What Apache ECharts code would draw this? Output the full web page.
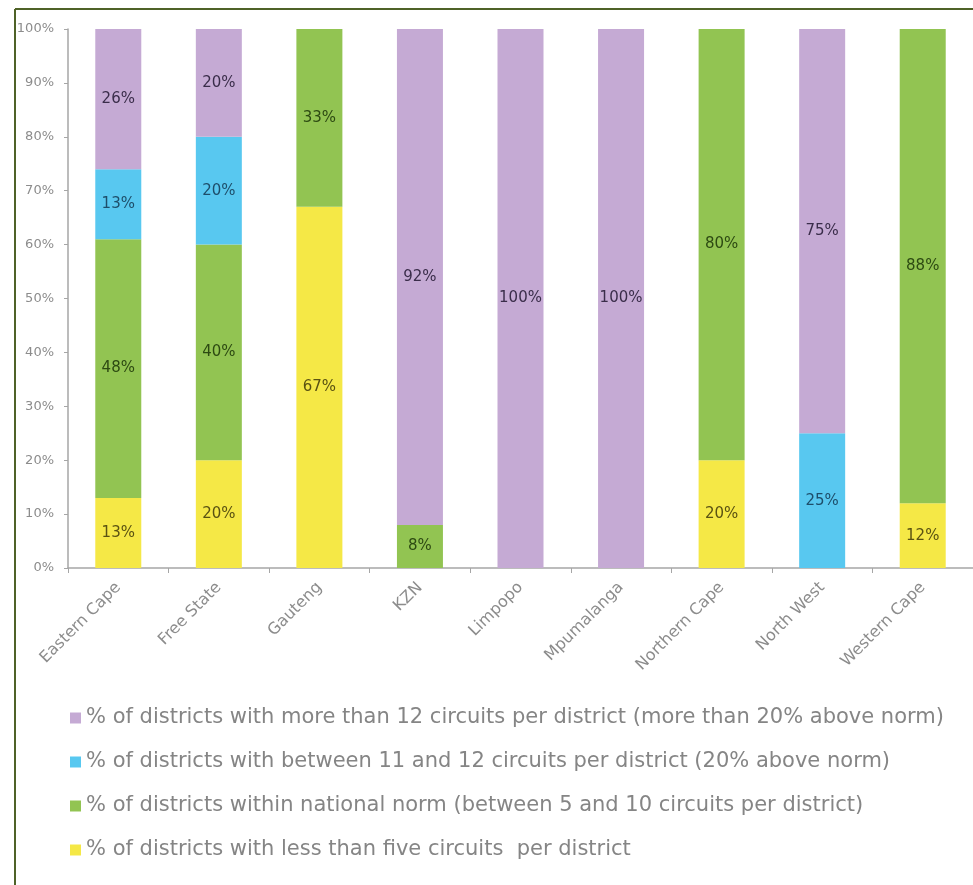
<!DOCTYPE html>
<html>
<head>
<meta charset="utf-8">
<script src="https://cdn.jsdelivr.net/npm/echarts@6/dist/echarts.min.js"></script>
<style>
html,body{margin:0;padding:0;background:#fff;}
#chart{width:973px;height:885px;}
</style>
</head>
<body>
<div id="chart"></div>
<script>
const categories = ['Eastern Cape','Free State','Gauteng','KZN','Limpopo','Mpumalanga','Northern Cape','North West','Western Cape'];
const lessThanFive = [13,20,67,0,0,0,20,0,12];
const withinNorm = [48,40,33,8,0,0,80,0,88];
const between11and12 = [13,20,0,0,0,0,0,25,0];
const moreThan12 = [26,20,0,92,100,100,0,75,0];
const yTicks = [0,10,20,30,40,50,60,70,80,90,100];

const names = {
  purple: '% of districts with more than 12 circuits per district (more than 20% above norm)',
  blue: '% of districts with between 11 and 12 circuits per district (20% above norm)',
  green: '% of districts within national norm (between 5 and 10 circuits per district)',
  yellow: '% of districts with less than five circuits  per district'
};

const chart = echarts.init(document.getElementById('chart'));
const font = 'DejaVu Sans, Arial, sans-serif';

function mk(name, data, color, labelColor) {
  return {
    name: name,
    type: 'bar',
    stack: 'total',
    data: data,
    barWidth: 46,
    itemStyle: { color: color },
    label: {
      show: true,
      position: 'inside',
      color: labelColor,
      fontFamily: font,
      fontSize: 15,
      formatter: p => p.value > 0 ? p.value + '%' : ''
    }
  };
}

chart.setOption({
  animation: false,
  backgroundColor: '#fff',
  textStyle: { fontFamily: font },
  graphic: [
    { type: 'line', shape: { x1: 15, y1: 9, x2: 973, y2: 9 }, style: { stroke: '#4f6228', lineWidth: 2 }, silent: true },
    { type: 'line', shape: { x1: 15, y1: 9, x2: 15, y2: 885 }, style: { stroke: '#4f6228', lineWidth: 2 }, silent: true }
  ],
  grid: { left: 68, top: 29, width: 907, height: 539, containLabel: false },
  xAxis: {
    type: 'category',
    data: categories,
    axisLine: { lineStyle: { color: '#a6a6a6', width: 1.5 } },
    axisTick: { show: true, length: 5, lineStyle: { color: '#a6a6a6' } },
    axisLabel: {
      rotate: 45,
      margin: 17,
      color: '#8c8c8c',
      fontSize: 16,
      fontFamily: font,
      interval: 0
    }
  },
  yAxis: {
    type: 'value',
    min: yTicks[0],
    max: yTicks[yTicks.length - 1],
    interval: 10,
    splitLine: { show: false },
    axisLine: { show: true, lineStyle: { color: '#a6a6a6', width: 1.5 } },
    axisTick: { show: true, length: 4, lineStyle: { color: '#a6a6a6' } },
    axisLabel: {
      formatter: '{value}%',
      color: '#8c8c8c',
      fontSize: 13,
      fontFamily: font,
      margin: 14
    }
  },
  legend: {
    orient: 'vertical',
    left: 65,
    top: 700,
    itemWidth: 11,
    itemHeight: 11,
    itemGap: 18,
    icon: 'rect',
    data: [names.purple, names.blue, names.green, names.yellow],
    textStyle: { color: '#858585', fontSize: 21, fontFamily: font, lineHeight: 26 }
  },
  series: [
    mk(names.yellow, lessThanFive, '#f5e846', '#5a5212'),
    mk(names.green, withinNorm, '#92c452', '#2d4a12'),
    mk(names.blue, between11and12, '#58c8f0', '#1e4e6a'),
    mk(names.purple, moreThan12, '#c5aad4', '#3a2d4a')
  ]
});
</script>
</body>
</html>
